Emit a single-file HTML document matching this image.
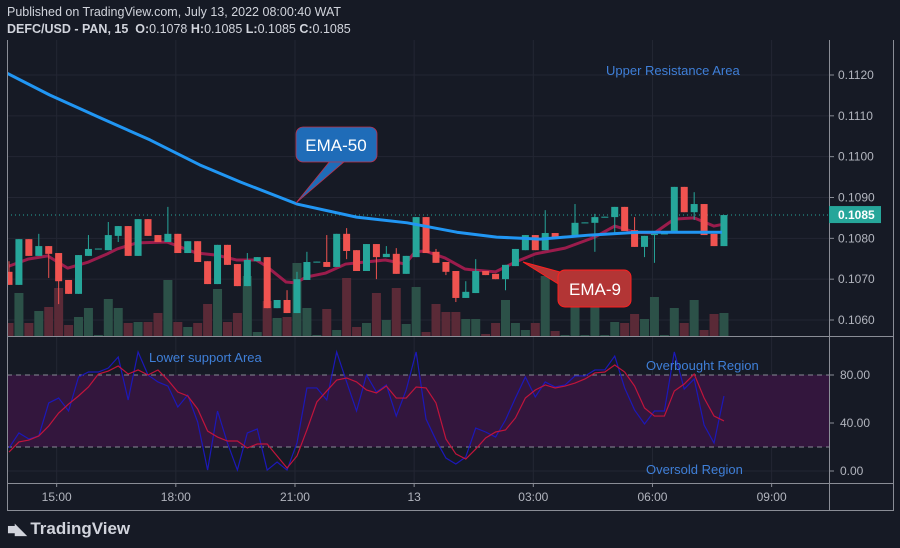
<!DOCTYPE html>
<html><head><meta charset="utf-8">
<style>
html,body{margin:0;padding:0;background:#161a25;}
body{width:900px;height:548px;overflow:hidden;position:relative;font-family:"Liberation Sans",sans-serif;}
.hdr{position:absolute;left:7px;color:#d1d4dc;font-size:12.5px;white-space:nowrap;}
</style></head>
<body>
<div class="hdr" style="top:5px">Published on TradingView.com, July 13, 2022 08:00:40 WAT</div>
<div class="hdr" style="top:22px"><b>DEFC/USD - PAN, 15 &nbsp;O:</b>0.1078 <b>H:</b>0.1085 <b>L:</b>0.1085 <b>C:</b>0.1085</div>
<svg id="chart" width="900" height="548" style="position:absolute;left:0;top:0"></svg>
<div style="position:absolute;left:7px;top:519px;color:#d1d4dc;font-size:17px;font-weight:bold;"><span style="font-size:15px;letter-spacing:-1px">&#9632;&#9699;</span> TradingView</div>
<script>
// ---- data ----
const opens = [.10718,.10686,.10798,.10757,.10781,.10764,.10698,.10664,.10757,.10774,.10771,.10806,.10830,.10757,.10847,.10808,.10791,.10811,.10764,.10793,.10744,.10688,.10784,.10737,.10683,.10744,.10754,.10629,.10649,.10617,.10698,.10742,.10742,.10730,.10811,.10771,.10720,.10786,.10754,.10762,.10713,.10754,.10852,.10767,.10742,.10720,.10654,.10666,.10720,.10713,.10700,.10732,.10771,.10808,.10771,.10813,.10805,.10803,.10838,.10838,.10852,.10852,.10877,.10820,.10779,.10808,.10811,.10813,.10926,.10864,.10884,.10811,.10781];
const closes = [.10686,.10798,.10757,.10781,.10762,.10695,.10664,.10759,.10774,.10775,.10808,.10830,.10757,.10847,.10806,.10791,.10811,.10764,.10793,.10742,.10688,.10784,.10735,.10683,.10747,.10754,.10629,.10649,.10617,.10700,.10742,.10743,.10730,.10811,.10769,.10720,.10786,.10754,.10762,.10713,.10757,.10852,.10764,.10740,.10718,.10654,.10669,.10720,.10710,.10700,.10735,.10774,.10808,.10771,.10813,.10803,.10806,.10838,.10839,.10852,.10853,.10877,.10818,.10779,.10806,.10811,.10812,.10926,.10864,.10884,.10808,.10781,.10857];
const highs = [.10744,.10798,.10798,.10811,.10781,.10764,.10698,.10759,.10808,.10775,.10840,.10830,.10830,.10847,.10847,.10808,.10877,.10811,.10793,.10793,.10744,.10784,.10784,.10737,.10764,.10754,.10754,.10649,.10673,.10718,.10767,.10743,.10808,.10811,.10825,.10771,.10786,.10786,.10781,.10776,.10757,.10852,.10852,.10774,.10742,.10720,.10695,.10749,.10720,.10713,.10735,.10774,.10808,.10808,.10869,.10813,.10806,.10884,.10839,.10860,.10853,.10877,.10877,.10852,.10806,.10811,.10812,.10926,.10926,.10913,.10884,.10811,.10857];
const lows = [.10686,.10686,.10757,.10757,.10703,.10639,.10664,.10664,.10757,.10774,.10771,.10791,.10757,.10757,.10806,.10791,.10791,.10764,.10764,.10742,.10688,.10688,.10735,.10683,.10683,.10744,.10629,.10629,.10617,.10617,.10698,.10742,.10730,.10730,.10749,.10720,.10720,.10700,.10754,.10713,.10713,.10754,.10764,.10740,.10710,.10644,.10654,.10666,.10710,.10700,.10673,.10732,.10771,.10771,.10771,.10803,.10805,.10803,.10838,.10767,.10852,.10813,.10818,.10779,.10754,.10740,.10811,.10813,.10864,.10845,.10808,.10781,.10781];
const volumes = [13,43,13,25,29,48,11,19,28,1,37,28,13,14,14,23,56,14,9,13,32,47,14,23,60,4,35,18,19,73,28,1,27,6,58,9,13,43,16,48,12,49,4,32,24,24,17,17,2,13,36,13,6,13,60,5,1,32,1,46,1,14,13,22,17,39,1,28,13,36,6,22,23];
const ema50Idx = [-0.4,4.1,9.2,14.2,19.2,23.3,29.0,35.0,40.1,45.1,49.1,53.5,58.5,63.5,68.6,71.8];
const ema50Val = [.11207,.11151,.11095,.11041,.10980,.10938,.10884,.10852,.10838,.10815,.10803,.10798,.10808,.10815,.10815,.10815];
const ema9Idx = [0,1.9,3.9,5.9,8,9.9,10.9,12.9,15.9,18.9,20.9,22.9,24.9,25.9,27.9,28.9,29.9,31.9,33.9,35.9,37.9,39.9,40.9,41.9,43.9,45.9,46.9,49,51,53,56,59,61,63,65,67,69,71,72];
const ema9Val = [.10732,.10749,.10757,.10727,.10742,.10762,.10774,.10789,.10791,.10764,.10759,.10747,.10747,.10732,.10693,.10691,.10705,.10715,.10737,.10742,.10747,.10737,.10767,.10769,.10752,.10725,.10722,.10718,.10742,.10762,.10776,.10803,.10830,.10815,.10813,.10847,.10850,.10830,.10835];
const rsi = [19.2,31.7,26.7,29.2,56.7,60.8,50,78.3,82.5,82.5,85.8,95,59.2,99.2,80,74.2,70.8,53.3,63.3,40.8,0.8,50,23.3,0.8,31.7,35,0.8,7.5,0.8,23.3,69.2,69.2,59.2,99.2,74.2,50,80,65.8,71.7,45.8,67.5,99.2,43.3,25.8,10.8,5.8,11.7,35.8,32.5,28.3,42.5,60.8,78.3,61.7,74.2,70,71.7,79.2,79.2,84.2,84.2,95.8,69.2,50.8,39.2,50,50,99.2,68.3,76.7,38.3,23.3,62.5];
const rsiMa = [15.8,24.2,25.8,29.2,37.5,48.3,55.8,62.5,70,80.8,83.3,87.5,80.8,84.2,80,84.2,75.8,65.8,62.5,51.7,33.3,28.3,25,25,19.2,22.5,22.5,12.5,2.5,12.5,34.2,57.5,66.7,75.8,77.5,74.2,67.5,65,70.8,60.8,60.8,70,69.2,56.7,26.7,14.2,10,18.3,27.5,32.5,34.2,44.2,60.8,67.5,71.7,69.2,70.8,73.3,76.7,81.7,82.5,88.3,82.5,70.8,52.5,45.8,45.8,66.7,72.5,80.8,60.8,45.8,41.7];
const priceTicks = [0.1060,0.1070,0.1080,0.1090,0.1100,0.1110,0.1120];
const rsiTicks = [0,40,80];
const timeLabels = ["15:00","18:00","21:00","13","03:00","06:00","09:00"];
const timeIdx = [4.8,16.8,28.8,40.8,52.8,64.8,76.8];
const lastPrice = 0.10857;

// ---- axes ----
const NS="http://www.w3.org/2000/svg", svg=document.getElementById('chart');
const X = i => 9 + i*9.93;
const Y = p => 75 + (0.1120 - p)*40833;
const RY = v => 471 - v*1.2;
const VB = 336, VS = 1.0;
function mk(tag, attrs, parent){const e=document.createElementNS(NS,tag);for(const k in attrs)e.setAttribute(k,attrs[k]);(parent||svg).appendChild(e);return e;}

// clip
const defs=mk('defs',{});
const cp=mk('clipPath',{id:'pc'},defs); mk('rect',{x:7,y:40,width:822,height:296},cp);
const cr=mk('clipPath',{id:'rc'},defs); mk('rect',{x:7,y:337,width:822,height:146},cr);

// grids
const grid=mk('g',{stroke:'#232633','stroke-width':1});


priceTicks.forEach(p=>mk('line',{x1:7,x2:829,y1:Y(p),y2:Y(p)},grid));
rsiTicks.forEach(v=>mk('line',{x1:7,x2:829,y1:RY(v),y2:RY(v)},grid));
timeIdx.forEach(i=>{mk('line',{x1:X(i),x2:X(i),y1:40,y2:336},grid);mk('line',{x1:X(i),x2:X(i),y1:337,y2:483},grid);});

// volume
const vg=mk('g',{'clip-path':'url(#pc)'});


volumes.forEach((v,i)=>{const up=closes[i]>=opens[i];
 const r=mk('rect',{x:X(i)-4.5,y:VB-v*VS,width:9,height:v*VS,fill:up?'#2c5148':'#5a2a37'},vg);
 
 });

// last price line
mk('line',{x1:7,x2:829,y1:Y(lastPrice),y2:Y(lastPrice),stroke:'#26a69a','stroke-dasharray':'1 3','stroke-width':1});

// EMA50
function poly(idx,val,col,w,name){const pts=idx.map((i,k)=>X(i)+','+Y(val[k])).join(' ');
 const e=mk('polyline',{points:pts,fill:'none',stroke:col,'stroke-width':w,'stroke-linejoin':'round','clip-path':'url(#pc)'});
 
 }
poly(ema9Idx,ema9Val,'#9b1c4c',3,'ema-9-line');

// candles
const cg=mk('g',{'clip-path':'url(#pc)'});


opens.forEach((o,i)=>{const c=closes[i],up=c>=o,col=up?'#26a69a':'#ef5350',x=X(i);
 const g=mk('g',{},cg);
 
 
 mk('line',{x1:x,x2:x,y1:Y(highs[i]),y2:Y(lows[i]),stroke:col,'stroke-width':1},g);
 const t=Y(Math.max(o,c)),b=Y(Math.min(o,c));
 mk('rect',{x:x-3.5,y:t,width:7,height:Math.max(1,b-t),fill:col},g);});
poly(ema50Idx,ema50Val,'#2196f3',3,'ema-50-line');

// RSI pane
mk('rect',{x:7,y:RY(80),width:822,height:RY(20)-RY(80),fill:'#33163d'});
[80,20].forEach(v=>mk('line',{x1:7,x2:829,y1:RY(v),y2:RY(v),stroke:'#8a8a96','stroke-dasharray':'5 4','stroke-width':1}));
function rpoly(arr,col,name){const pts=arr.map((v,i)=>X(i)+','+RY(v)).join(' ');
 const e=mk('polyline',{points:pts,fill:'none',stroke:col,'stroke-width':1.2,'clip-path':'url(#rc)'});
 
 }
rpoly(rsi,'#1c18b8','rsi-line');
rpoly(rsiMa,'#c0143c','rsi-ma-line');

// frame
const fr=mk('g',{stroke:'#8a8d96','stroke-width':1,fill:'none'});


mk('line',{x1:7.5,x2:7.5,y1:40,y2:511},fr);
mk('line',{x1:829.5,x2:829.5,y1:40,y2:511},fr);
mk('line',{x1:893.5,x2:893.5,y1:40,y2:511},fr);
mk('line',{x1:7,x2:894,y1:336.5,y2:336.5},fr);
mk('line',{x1:7,x2:894,y1:483.5,y2:483.5},fr);
mk('line',{x1:7,x2:894,y1:510.5,y2:510.5},fr);

// axis labels
function txt(x,y,s,attrs,name){const t=mk('text',Object.assign({x:x,y:y,'font-family':'Liberation Sans, sans-serif'},attrs));t.textContent=s;
 
 return t;}
priceTicks.forEach(p=>{mk('line',{x1:829,x2:834,y1:Y(p),y2:Y(p),stroke:'#8a8d96'});txt(838,Y(p)+4,p.toFixed(4),{'font-size':12,fill:'#b2b5be'},'price-tick-label');});
rsiTicks.forEach(v=>{mk('line',{x1:829,x2:834,y1:RY(v),y2:RY(v),stroke:'#8a8d96'});txt(840,RY(v)+4,v.toFixed(2),{'font-size':12,fill:'#b2b5be'},'rsi-tick-label');});
timeIdx.forEach((i,k)=>{mk('line',{x1:X(i),x2:X(i),y1:483,y2:487,stroke:'#8a8d96'});txt(X(i),501,timeLabels[k],{'font-size':12,fill:'#b2b5be','text-anchor':'middle'},'time-tick-label');});
const pl=mk('rect',{x:829,y:Y(lastPrice)-9,width:52,height:17,fill:'#26a69a'});


txt(838,Y(lastPrice)+4,'0.1085',{'font-size':12,fill:'#ffffff','font-weight':'bold'},'last-price-label');

// annotations
txt(606,75,'Upper Resistance Area',{'font-size':13,fill:'#3f7fd8'},'upper-resistance-note');
txt(149,362,'Lower support Area',{'font-size':13,fill:'#3f7fd8'},'lower-support-note');
txt(646,370,'Overbought Region',{'font-size':13,fill:'#3f7fd8'},'overbought-note');
txt(646,474,'Oversold Region',{'font-size':13,fill:'#3f7fd8'},'oversold-note');

// callouts
const c50=mk('g',{});


mk('path',{d:'M296 203 L330 161 L345 161 Z',fill:'#1f6cb8',stroke:'#c0304a','stroke-width':0.8},c50);
mk('rect',{x:296,y:127,width:81,height:35,rx:7,fill:'#1f6cb8',stroke:'#c0304a','stroke-width':0.8},c50);
txt(336,151,'EMA-50',{'font-size':17,fill:'#ffffff','text-anchor':'middle'},'ema-50-callout-text');
const c9=mk('g',{});


mk('path',{d:'M523 262 L560 272 L560 285 Z',fill:'#b33535',stroke:'#ff2020','stroke-width':1},c9);
mk('rect',{x:558,y:270,width:73,height:37,rx:7,fill:'#b33535',stroke:'#ff2020','stroke-width':1},c9);
txt(595,295,'EMA-9',{'font-size':17,fill:'#ffffff','text-anchor':'middle'},'ema-9-callout-text');
</script>
</body></html>
